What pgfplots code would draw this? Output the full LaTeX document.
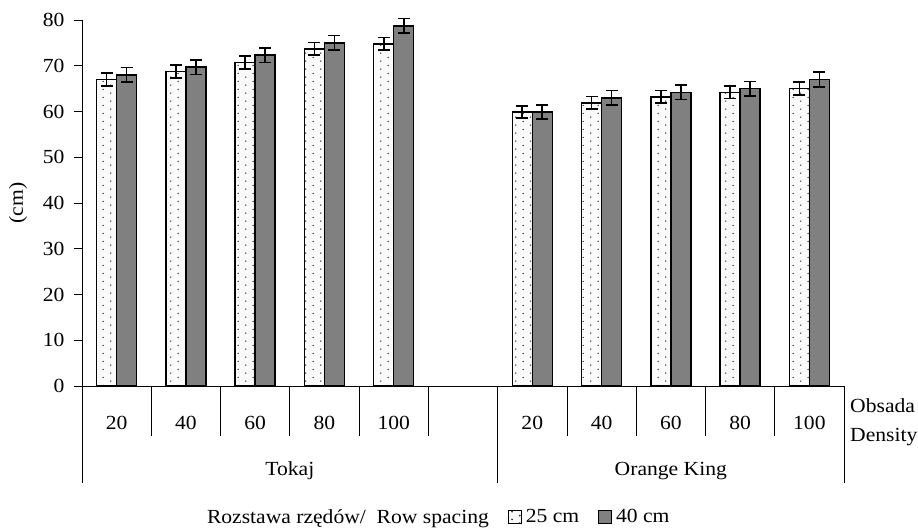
\documentclass[border=0pt]{standalone}
\usepackage{pgfplots}
\pgfplotsset{compat=1.18}
\usepackage{fontspec}
\setmainfont[FakeStretch=1.08]{Liberation Serif}
\usetikzlibrary{patterns.meta}
\definecolor{barg}{HTML}{808080}
\definecolor{dotbg}{HTML}{FAFAFA}
\pgfdeclarepattern{
  name=stagdots, type=uncolored,
  bottom left={\pgfpoint{0pt}{0pt}}, top right={\pgfpoint{15.4pt}{7.7pt}},
  tile size={\pgfpoint{15.4pt}{7.7pt}},
  code={\pgfpathcircle{\pgfpoint{3.85pt}{1.9pt}}{0.8pt}\pgfpathcircle{\pgfpoint{11.55pt}{5.75pt}}{0.8pt}\pgfusepath{fill}}
}
\begin{document}
\begin{tikzpicture}[font=\fontsize{20}{24}\selectfont]
\begin{axis}[
 at={(82pt,143pt)}, anchor=south west,
 width=762pt, height=366pt, scale only axis,
 xmin=-0.5, xmax=10.5, ymin=0, ymax=80,
 axis lines*=left, axis line style={line width=0.8pt},
 ytick={0,10,...,80},
 xtick={0,1,2,3,4,6,7,8,9,10},
 xticklabels={20,40,60,80,100,20,40,60,80,100},
 xtick style={draw=none},
 xticklabel style={anchor=base, inner sep=0pt, yshift=-36pt},
 yticklabel style={xshift=-6pt},
 ytick style={black, line width=0.8pt}, major tick length=8pt, tick align=outside,
 /pgf/number format/assume math mode=true,
 ylabel={(cm)},
 ylabel style={at={(axis description cs:-0.084,0.5)}, anchor=center},
 clip=false,
 ybar, bar width=20pt,
 legend style={draw=none, fill=none, inner sep=0pt, outer sep=0pt,
   at={(axis description cs:0.1588,-0.358)}, anchor=west,
   legend columns=-1, nodes={inner sep=0pt},
   /tikz/every odd column/.append style={column sep=4pt},
   /tikz/every even column/.append style={column sep=19pt}},
]
\addlegendimage{empty legend}
\addplot[bar shift=-10pt, draw=black, line width=1.5pt, fill=dotbg,
  postaction={pattern=stagdots, pattern color=black!80},
  legend image code/.code={\draw[draw=black, line width=0.9pt, fill=dotbg, postaction={pattern=stagdots, pattern color=black!80}] (0pt,-6.5pt) rectangle (13pt,6.5pt);},
  error bars/.cd, y dir=both, y explicit,
  error bar style={line width=1.6pt, black},
  error mark options={rotate=90, line width=1.6pt, black, mark size=6pt}]
 coordinates {(0,67.0) +- (0,1.4) (1,68.7) +- (0,1.4) (2,70.7) +- (0,1.4) (3,73.7) +- (0,1.4) (4,74.8) +- (0,1.4)
   (6,59.9) +- (0,1.3) (7,61.9) +- (0,1.4) (8,63.2) +- (0,1.4) (9,64.2) +- (0,1.4) (10,65.0) +- (0,1.4)};
\addplot[bar shift=10pt, draw=black, line width=1.5pt, fill=barg,
  legend image code/.code={\draw[draw=black, line width=0.9pt, fill=barg] (0pt,-6.5pt) rectangle (13pt,6.5pt);},
  error bars/.cd, y dir=both, y explicit,
  error bar style={line width=1.6pt, black},
  error mark options={rotate=90, line width=1.6pt, black, mark size=6pt}]
 coordinates {(0,68.0) +- (0,1.6) (1,69.7) +- (0,1.6) (2,72.3) +- (0,1.6) (3,75.0) +- (0,1.6) (4,78.7) +- (0,1.6)
   (6,59.9) +- (0,1.5) (7,63.0) +- (0,1.6) (8,64.2) +- (0,1.6) (9,65.0) +- (0,1.6) (10,67.0) +- (0,1.6)};
\legend{Rozstawa rzędów/\ \ Row spacing, 25 cm, 40 cm}
% category table lines
\pgfplotsinvokeforeach{0.5,1.5,2.5,3.5,4.5,6.5,7.5,8.5,9.5}{
  \draw[line width=0.8pt] (axis cs:#1,0) -- ([yshift=-50pt]axis cs:#1,0);
}
\pgfplotsinvokeforeach{-0.5,5.5,10.5}{
  \draw[line width=0.8pt] (axis cs:#1,0) -- ([yshift=-97pt]axis cs:#1,0);
}
\node[anchor=base, inner sep=0pt] at ([yshift=-90pt]axis cs:2.5,0) {Tokaj};
\node[anchor=base, inner sep=0pt] at ([yshift=-90pt]axis cs:8,0) {Orange King};
\node[anchor=base west, inner sep=0pt] at ([xshift=6pt,yshift=-27pt]axis cs:10.5,0) {Obsada};
\node[anchor=base west, inner sep=0pt] at ([xshift=6pt,yshift=-55.7pt]axis cs:10.5,0) {Density};
\end{axis}
\pgfresetboundingbox
\path[use as bounding box] (0,0) rectangle (918pt,529pt);
\end{tikzpicture}
\end{document}
